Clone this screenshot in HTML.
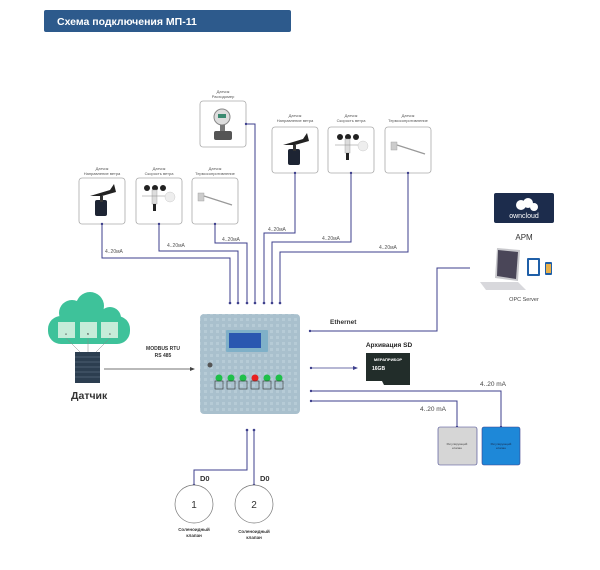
<!DOCTYPE html>
<html><head><meta charset="utf-8"><style>
body{margin:0;background:#fff;}
svg{display:block;font-family:"Liberation Sans","DejaVu Sans",sans-serif;}
</style></head><body>
<svg width="600" height="570" viewBox="0 0 600 570" xmlns="http://www.w3.org/2000/svg">
<defs>
<pattern id="grid" width="6" height="6" patternUnits="userSpaceOnUse">
<rect width="6" height="6" fill="#a9c0cd"/><rect width="3" height="3" fill="#b6cbd6"/></pattern>
</defs>
<rect x="44" y="10" width="247" height="22" rx="2" fill="#2d5a8c"/>
<text x="57" y="25" fill="#fff" font-size="10.5" font-weight="bold">Схема подключения МП-11</text>

<g fill="#fff" stroke="#aaa" stroke-width="0.8">
<rect x="79" y="178" width="46" height="46" rx="3"/>
<rect x="136" y="178" width="46" height="46" rx="3"/>
<rect x="192" y="178" width="46" height="46" rx="3"/>
<rect x="200" y="101" width="46" height="46" rx="3"/>
<rect x="272" y="127" width="46" height="46" rx="3"/>
<rect x="328" y="127" width="46" height="46" rx="3"/>
<rect x="385" y="127" width="46" height="46" rx="3"/>
</g>
<g font-size="4" fill="#555" text-anchor="middle">
<text x="102" y="170">Датчик</text><text x="102" y="175">Направление ветра</text>
<text x="159" y="170">Датчик</text><text x="159" y="175">Скорость ветра</text>
<text x="215" y="170">Датчик</text><text x="215" y="175">Термосопротивление</text>
<text x="223" y="93">Датчик</text><text x="223" y="98">Расходомер</text>
<text x="295" y="117">Датчик</text><text x="295" y="122">Направление ветра</text>
<text x="351" y="117">Датчик</text><text x="351" y="122">Скорость ветра</text>
<text x="408" y="117">Датчик</text><text x="408" y="122">Термосопротивление</text>
</g>
<g id="vane">
<rect x="95" y="200" width="12" height="16" rx="2" fill="#1d2433"/>
<rect x="100" y="196" width="3" height="6" fill="#333"/>
<polygon points="90,196 110,190 114,184 116,192 102,196" fill="#222"/>
</g>
<use href="#vane" x="193" y="-51"/>
<g id="anem">
<circle cx="147" cy="188" r="3" fill="#222"/><circle cx="155" cy="188" r="3" fill="#222"/><circle cx="163" cy="188" r="3" fill="#222"/>
<rect x="152" y="190" width="5" height="14" fill="#ddd" stroke="#999" stroke-width="0.4"/>
<rect x="153" y="204" width="3" height="7" fill="#222"/>
<line x1="142" y1="196" x2="165" y2="196" stroke="#888" stroke-width="0.6"/>
<circle cx="170" cy="197" r="5" fill="#eee" stroke="#ccc" stroke-width="0.5"/>
</g>
<use href="#anem" x="193" y="-51"/>
<g id="therm">
<rect x="198" y="193" width="6" height="8" fill="#ccc" stroke="#999" stroke-width="0.4"/>
<line x1="204" y1="196" x2="232" y2="205" stroke="#999" stroke-width="1.2"/>
</g>
<use href="#therm" x="193" y="-51"/>
<circle cx="222" cy="117" r="8" fill="#ddd" stroke="#888" stroke-width="1"/>
<rect x="218" y="114" width="8" height="4" fill="#3a8a70"/>
<rect x="220" y="125" width="5" height="6" fill="#777"/>
<rect x="214" y="131" width="18" height="9" rx="2" fill="#555"/>

<g fill="none" stroke="#3d3f8c" stroke-width="1">
<polyline points="102,224 102,258 230,258 230,303"/>
<polyline points="159,224 159,251 238,251 238,303"/>
<polyline points="215,224 215,243 247,243 247,303"/>
<polyline points="246,124 255,124 255,303"/>
<polyline points="295,173 295,233 264,233 264,303"/>
<polyline points="351,173 351,242 272,242 272,303"/>
<polyline points="408,173 408,252 280,252 280,303"/>
<polyline points="310,331 437,331 437,268 470,268"/>
<polyline points="311,391 501,391 501,427"/>
<polyline points="311,401 457,401 457,427"/>
<polyline points="247,430 247,470 194,470 194,485"/>
<polyline points="254,430 254,485"/>
</g>
<g fill="#3d3f8c">
<circle cx="230" cy="303" r="1.3"/><circle cx="238" cy="303" r="1.3"/><circle cx="247" cy="303" r="1.3"/><circle cx="255" cy="303" r="1.3"/><circle cx="264" cy="303" r="1.3"/><circle cx="272" cy="303" r="1.3"/><circle cx="280" cy="303" r="1.3"/>
<circle cx="102" cy="224" r="1.2"/><circle cx="159" cy="224" r="1.2"/><circle cx="215" cy="224" r="1.2"/><circle cx="246" cy="124" r="1.2"/><circle cx="295" cy="173" r="1.2"/><circle cx="351" cy="173" r="1.2"/><circle cx="408" cy="173" r="1.2"/>
<circle cx="310" cy="331" r="1.2"/><circle cx="311" cy="391" r="1.2"/><circle cx="311" cy="401" r="1.2"/><circle cx="311" cy="368" r="1.2"/>
<circle cx="247" cy="430" r="1.3"/><circle cx="254" cy="430" r="1.3"/><circle cx="194" cy="485" r="1.3"/><circle cx="254" cy="485" r="1.3"/>
<circle cx="457" cy="427" r="1.2"/><circle cx="501" cy="427" r="1.2"/>
</g>
<g font-size="5" fill="#555">
<text x="105" y="253">4..20мА</text><text x="167" y="247">4..20мА</text><text x="222" y="241">4..20мА</text>
<text x="268" y="231">4..20мА</text><text x="322" y="240">4..20мА</text><text x="379" y="249">4..20мА</text>
</g>

<rect x="200" y="314" width="100" height="100" rx="4" fill="url(#grid)"/>
<rect x="226" y="330" width="42" height="22" rx="1" fill="#7fb0c8"/>
<rect x="229" y="333" width="32" height="15" fill="#2a57b0"/>
<circle cx="210" cy="365" r="2.5" fill="#555"/>
<g fill="#1fbf4a"><circle cx="219" cy="378" r="3.5"/><circle cx="231" cy="378" r="3.5"/><circle cx="243" cy="378" r="3.5"/><circle cx="267" cy="378" r="3.5"/><circle cx="279" cy="378" r="3.5"/></g>
<circle cx="255" cy="378" r="3.5" fill="#e82020"/>
<g fill="none" stroke="#333" stroke-width="0.6"><rect x="215" y="381" width="8" height="8"/><rect x="227" y="381" width="8" height="8"/><rect x="239" y="381" width="8" height="8"/><rect x="251" y="381" width="8" height="8"/><rect x="263" y="381" width="8" height="8"/><rect x="275" y="381" width="8" height="8"/></g>

<g fill="#3ec29a">
<circle cx="72" cy="313" r="13"/><circle cx="90" cy="306" r="14"/><circle cx="110" cy="318" r="11"/>
<rect x="48" y="316" width="82" height="28" rx="13"/>
</g>
<g fill="#c6ecd9"><rect x="58" y="322" width="17" height="16"/><rect x="80" y="322" width="17" height="16"/><rect x="101" y="322" width="17" height="16"/></g>
<g font-size="3" fill="#333" text-anchor="middle"><text x="66" y="335">A</text><text x="88" y="335">B</text><text x="110" y="335">C</text></g>
<g stroke="#888" stroke-width="0.5"><line x1="66" y1="338" x2="80" y2="352"/><line x1="88" y1="338" x2="88" y2="352"/><line x1="110" y1="338" x2="96" y2="352"/></g>
<rect x="75" y="352" width="25" height="31" fill="#2c3e50"/>
<g stroke="#6b7f93" stroke-width="0.5"><line x1="75" y1="357" x2="100" y2="357"/><line x1="75" y1="362" x2="100" y2="362"/><line x1="75" y1="367" x2="100" y2="367"/><line x1="75" y1="372" x2="100" y2="372"/><line x1="75" y1="377" x2="100" y2="377"/></g>
<text x="71" y="399" font-size="10.5" font-weight="bold" fill="#333">Датчик</text>
<line x1="104" y1="369" x2="193" y2="369" stroke="#444" stroke-width="0.8"/>
<polygon points="195,369 190,367 190,371" fill="#444"/>
<text x="163" y="350" font-size="5" font-weight="bold" fill="#333" text-anchor="middle">MODBUS RTU</text>
<text x="163" y="357" font-size="5" font-weight="bold" fill="#333" text-anchor="middle">RS 485</text>

<text x="330" y="324" font-size="6.5" font-weight="bold" fill="#333">Ethernet</text>
<rect x="494" y="193" width="60" height="30" rx="2" fill="#1c2c4c"/>
<circle cx="521" cy="205" r="5" fill="#fff"/><circle cx="528" cy="203" r="5" fill="#fff"/><circle cx="534" cy="207" r="4" fill="#fff"/>
<text x="524" y="218" font-size="7" fill="#fff" text-anchor="middle">owncloud</text>
<text x="524" y="240" font-size="8" fill="#333" text-anchor="middle">АРМ</text>
<polygon points="497,248 520,250 518,281 495,278" fill="#c8c8cc"/>
<polygon points="498,250 518,252 516,279 497,276" fill="#4a4658"/>
<polygon points="480,282 518,282 526,290 486,290" fill="#d8d8dc"/>
<rect x="527" y="258" width="13" height="18" rx="1" fill="#1f5fa8"/><rect x="529" y="260" width="9" height="14" fill="#fff"/>
<rect x="545" y="262" width="7" height="13" rx="1" fill="#1f5fa8"/><rect x="546" y="264" width="5" height="9" fill="#e8b04a"/>
<text x="524" y="301" font-size="5.5" fill="#444" text-anchor="middle">OPC Server</text>
<text x="389" y="347" font-size="6.5" font-weight="bold" fill="#222" text-anchor="middle">Архивация SD</text>
<line x1="311" y1="368" x2="355" y2="368" stroke="#3d3f8c" stroke-width="0.8"/>
<polygon points="358,368 353,366 353,370" fill="#3d3f8c"/>
<path d="M366,353 H410 V385 H384 L382,381 H366 Z" fill="#222d2a"/>
<text x="388" y="361" font-size="4" fill="#fff" text-anchor="middle" font-weight="bold">МЕРАПРИБОР</text>
<text x="372" y="370" font-size="5" fill="#fff" font-weight="bold">16GB</text>
<text x="480" y="386" font-size="6.5" fill="#444">4..20 mA</text>
<text x="420" y="411" font-size="6.5" fill="#444">4..20 mA</text>
<rect x="438" y="427" width="39" height="38" rx="2" fill="#d6d6d6" stroke="#3d3f8c" stroke-width="0.6"/>
<rect x="482" y="427" width="38" height="38" rx="2" fill="#1e88d8" stroke="#3d3f8c" stroke-width="0.6"/>
<g font-size="3" fill="#444" text-anchor="middle"><text x="457" y="445">Регулирующий</text><text x="457" y="449">клапан</text></g>
<g font-size="3" fill="#1a2a4a" text-anchor="middle"><text x="501" y="445">Регулирующий</text><text x="501" y="449">клапан</text></g>

<circle cx="194" cy="504" r="19" fill="#fff" stroke="#777" stroke-width="0.7"/>
<circle cx="254" cy="504" r="19" fill="#fff" stroke="#777" stroke-width="0.7"/>
<text x="194" y="508" font-size="10" fill="#333" text-anchor="middle">1</text>
<text x="254" y="508" font-size="10" fill="#333" text-anchor="middle">2</text>
<text x="200" y="481" font-size="7.5" font-weight="bold" fill="#333">D0</text>
<text x="260" y="481" font-size="7.5" font-weight="bold" fill="#333">D0</text>
<g font-size="4.5" fill="#333" text-anchor="middle" font-weight="bold">
<text x="194" y="531">Соленоидный</text><text x="194" y="537">клапан</text>
<text x="254" y="533">Соленоидный</text><text x="254" y="539">клапан</text></g>
</svg>
</body></html>
